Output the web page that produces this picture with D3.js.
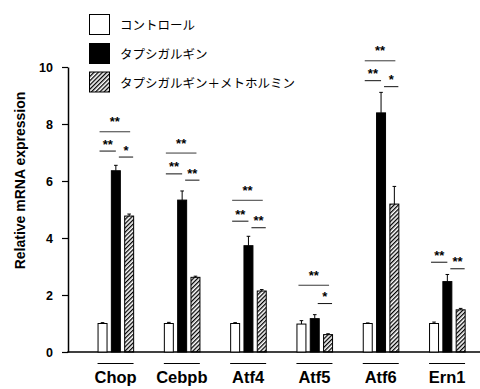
<!DOCTYPE html>
<html>
<head>
<meta charset="utf-8">
<script src="https://cdn.jsdelivr.net/npm/d3@7"></script>
<style>
  body { margin: 0; background: #fff; }
  svg { display: block; }
  text { font-family: "Liberation Sans", Arial, sans-serif; }
  .jp { font-family: "Noto Sans CJK JP", sans-serif; }
</style>
</head>
<body>
<div id="chart"></div>
<script>
// genes on the x axis
const genes = ["Chop", "Cebpb", "Atf4", "Atf5", "Atf6", "Ern1"];
// series (legend order)
const seriesNames = ["コントロール", "タプシガルギン", "タプシガルギン＋メトホルミン"];
// mean values
const control   = [1.00, 1.00, 1.00, 0.98, 1.00, 1.00];
const tg        = [6.36, 5.33, 3.73, 1.17, 8.39, 2.47];
const tgMet     = [4.77, 2.62, 2.14, 0.61, 5.19, 1.48];
// error bars (upper only)
const controlErr = [0.03, 0.04, 0.03, 0.12, 0.02, 0.05];
const tgErr      = [0.19, 0.32, 0.33, 0.14, 0.72, 0.25];
const tgMetErr   = [0.07, 0.04, 0.05, 0.03, 0.62, 0.05];
const yTicks = [0, 2, 4, 6, 8, 10];
// significance brackets: gene, from series, to series, height, label
const sigGene  = ["Chop","Chop","Chop","Cebpb","Cebpb","Cebpb","Atf4","Atf4","Atf4","Atf5","Atf5","Atf6","Atf6","Atf6","Ern1","Ern1"];
const sigFrom  = [0, 0, 1, 0, 0, 1, 0, 0, 1, 0, 1, 0, 0, 1, 0, 1];
const sigTo    = [2, 1, 2, 2, 1, 2, 2, 1, 2, 2, 2, 2, 1, 2, 1, 2];
const sigY     = [7.73, 7.05, 6.84, 6.98, 6.25, 6.03, 5.32, 4.59, 4.36, 2.34, 1.70, 10.22, 9.52, 9.31, 3.15, 2.92];
const sigLabel = ["**","**","*","**","**","**","**","**","**","**","*","**","**","*","**","**"];

const values = [control, tg, tgMet];
const errors = [controlErr, tgErr, tgMetErr];

const width = 480, height = 389;
const svg = d3.select("#chart").append("svg")
    .attr("width", width)
    .attr("height", height);

// hatch pattern for the third series
const defs = svg.append("defs");
defs.append("pattern")
    .attr("id", "hatch")
    .attr("patternUnits", "userSpaceOnUse")
    .attr("width", 3)
    .attr("height", 3)
    .attr("patternTransform", "rotate(45)")
  .append("rect")
    .attr("x", 0).attr("y", 0)
    .attr("width", 1.3).attr("height", 3)
    .attr("fill", "#000");

const fills = ["#fff", "#000", "url(#hatch)"];

// scales
const x0 = d3.scaleBand().domain(genes).range([82.7, 480.5]).padding(0);
const x1 = d3.scaleBand().domain(d3.range(3)).range([0, 36.6]).paddingInner(0.25);
const y = d3.scaleLinear().domain([0, 10]).range([352, 67]);

const groupStart = g => x0(g) + (x0.bandwidth() - 36.6) / 2;

// y axis
const yAxis = svg.append("g")
    .attr("transform", "translate(68,0)")
    .call(d3.axisLeft(y).tickValues(yTicks).tickSize(6).tickSizeOuter(0).tickPadding(9));
yAxis.select(".domain").attr("stroke", "#000").attr("stroke-width", 1.5);
yAxis.selectAll(".tick line").attr("stroke", "#000").attr("stroke-width", 1.2);
yAxis.selectAll(".tick text")
    .attr("fill", "#000")
    .style("font-size", "12.5px")
    .style("font-weight", "bold")
    .style("font-family", "'Liberation Sans', Arial, sans-serif");

// x axis baseline
svg.append("line")
    .attr("x1", 67.3).attr("x2", 480)
    .attr("y1", y(0)).attr("y2", y(0))
    .attr("stroke", "#000").attr("stroke-width", 1.5);

// y label
svg.append("text")
    .attr("transform", "translate(25,180.5) rotate(-90)")
    .attr("text-anchor", "middle")
    .style("font-size", "14px")
    .style("font-weight", "bold")
    .text("Relative mRNA expression");

// bars + error bars
genes.forEach((g, gi) => {
    const gx = groupStart(g);
    for (let s = 0; s < 3; s++) {
        const bx = gx + x1(s);
        const v = values[s][gi];
        const e = errors[s][gi];
        const cx = bx + x1.bandwidth() / 2;
        svg.append("line")
            .attr("x1", cx).attr("x2", cx)
            .attr("y1", y(v)).attr("y2", y(v + e))
            .attr("stroke", "#000").attr("stroke-width", 1);
        svg.append("line")
            .attr("x1", cx - 1.8).attr("x2", cx + 1.8)
            .attr("y1", y(v + e)).attr("y2", y(v + e))
            .attr("stroke", "#000").attr("stroke-width", 1);
        svg.append("rect")
            .attr("x", bx + 0.5)
            .attr("y", y(v))
            .attr("width", x1.bandwidth() - 1)
            .attr("height", y(0) - y(v))
            .attr("fill", fills[s])
            .attr("stroke", "#000")
            .attr("stroke-width", 1);
    }
    // underline + gene label
    svg.append("line")
        .attr("x1", gx).attr("x2", gx + 36)
        .attr("y1", 363.5).attr("y2", 363.5)
        .attr("stroke", "#000").attr("stroke-width", 1);
    svg.append("text")
        .attr("x", gx + 18)
        .attr("y", 383)
        .attr("text-anchor", "middle")
        .style("font-size", "16.5px")
        .style("font-weight", "bold")
        .text(g);
});

// significance brackets
const bw = x1.bandwidth();
sigGene.forEach((g, i) => {
    const gx = groupStart(g);
    const a = sigFrom[i], b = sigTo[i];
    let xa, xb;
    if (a === 0 && b === 2) { xa = gx + x1(0) + 0.2 * bw; xb = gx + x1(2) + 0.6 * bw; }
    else if (a === 0) { xa = gx + x1(0) + 0.2 * bw; xb = gx + x1(1) + 0.5 * bw; }
    else { xa = gx + x1(1) + 0.8 * bw; xb = gx + x1(2) + 0.9 * bw; }
    const ly = y(sigY[i]);
    const top = (a === 0 && b === 2);
    svg.append("line")
        .attr("x1", xa).attr("x2", xb)
        .attr("y1", ly).attr("y2", ly)
        .attr("stroke", top ? "#666" : "#111")
        .attr("stroke-width", top ? 1.3 : 1);
    svg.append("text")
        .attr("x", (xa + xb) / 2)
        .attr("y", ly - (top ? 5.5 : 2.5))
        .attr("text-anchor", "middle")
        .style("font-size", "13px")
        .style("font-weight", "bold")
        .text(sigLabel[i]);
});

// legend
const legendY = [14, 43, 71.5];
seriesNames.forEach((name, i) => {
    svg.append("rect")
        .attr("x", 89.5).attr("y", legendY[i] + 0.5)
        .attr("width", 20).attr("height", 20)
        .attr("fill", fills[i])
        .attr("stroke", "#000").attr("stroke-width", 1);
    svg.append("text")
        .attr("class", "jp")
        .attr("x", 120)
        .attr("y", legendY[i] + 10.5)
        .attr("dominant-baseline", "central")
        .style("font-size", "12.5px")
        .text(name);
});
</script>
</body>
</html>
